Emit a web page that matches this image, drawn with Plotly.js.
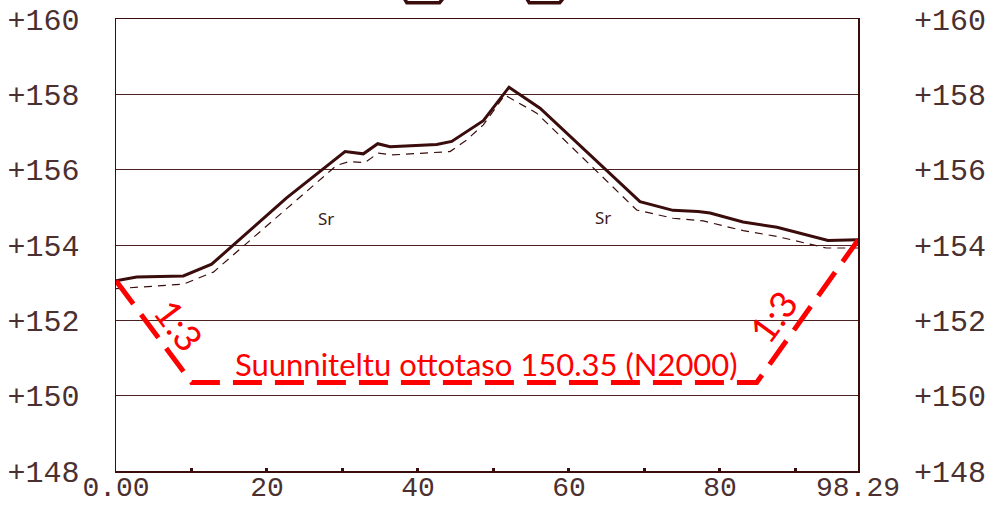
<!DOCTYPE html>
<html>
<head>
<meta charset="utf-8">
<script src="https://cdn.plot.ly/plotly-3.0.1.min.js"></script>
<style>html,body{margin:0;padding:0;background:#fff;}#chart{width:989px;height:507px;}</style>
</head>
<body>
<div id="chart"></div>
<script>
// Existing ground surface (solid)
var groundX = [0, 2.74, 8.92, 12.67, 22.6, 30.34, 32.76, 34.67, 36.30, 42.48, 44.47, 48.66, 52.06, 56.17, 69.41, 73.78, 77.10, 78.69, 83.06, 87.56, 94.32, 98.29];
var groundY = [153.05, 153.15, 153.18, 153.49, 155.25, 156.48, 156.42, 156.69, 156.61, 156.67, 156.75, 157.30, 158.19, 157.63, 155.15, 154.92, 154.89, 154.85, 154.61, 154.47, 154.12, 154.14];
// Layer boundary (thin dashed)
var layerX = [0, 8.92, 12.9, 29.2, 30.8, 32.98, 34.75, 36.5, 44.24, 46.46, 48.66, 51.5, 55.73, 68.97, 73.8, 77.8, 83.1, 87.5, 94.1, 98.29];
var layerY = [152.84, 152.96, 153.28, 156.11, 156.21, 156.19, 156.44, 156.39, 156.48, 156.79, 157.19, 157.98, 157.50, 154.93, 154.71, 154.64, 154.38, 154.23, 153.92, 153.92];
// Planned extraction level (red dashed)
var designX = [0, 10.03, 84.87, 98.29];
var designY = [153.05, 150.35, 150.35, 154.13];

var xTickVals = [0, 10, 20, 30, 40, 50, 60, 70, 80, 90, 98.29];
var xTickText = ['0.00', '', '20', '', '40', '', '60', '', '80', '', '98.29'];
var yTickVals = [148, 150, 152, 154, 156, 158, 160];
var yTickText = ['+148', '+150', '+152', '+154', '+156', '+158', '+160'];

var soilLabels = ['Sr', 'Sr'];
var soilX = [27.8, 64.5];
var soilY = [154.71, 154.72];

var designLabel = 'Suunniteltu ottotaso 150.35 (N2000)';
var designLabelX = 49.08, designLabelY = 150.85;
var slopeLabels = ['1:3', '1:3'];
var slopeX = [8.3, 87.0];
var slopeY = [151.88, 152.1];
var slopeAngle = [53, -54];

var dark = '#3a0c0c';
var gridC = '#4a2020';
var textC = '#4a3030';
var red = '#ff0000';

var traces = [
  {x: groundX, y: groundY, mode: 'lines', line: {color: dark, width: 3}, hoverinfo: 'skip'},
  {x: layerX, y: layerY, mode: 'lines', line: {color: dark, width: 1.2, dash: '8px,6px'}, hoverinfo: 'skip'},
  {x: designX, y: designY, mode: 'lines', line: {color: red, width: 5, dash: '29px,13px'}, hoverinfo: 'skip'},
  {x: [0, 98.29], y: [148, 160], mode: 'markers', marker: {opacity: 0}, yaxis: 'y2', hoverinfo: 'skip'}
];

var ann = [];
for (var i = 0; i < soilLabels.length; i++) {
  ann.push({x: soilX[i], y: soilY[i], text: soilLabels[i], showarrow: false,
    font: {family: 'Noto Sans', size: 17, color: '#3a1a1a'}});
}
ann.push({x: designLabelX, y: designLabelY, text: designLabel, showarrow: false,
  font: {family: 'Lato', size: 31, color: red}});
for (var j = 0; j < slopeLabels.length; j++) {
  ann.push({x: slopeX[j], y: slopeY[j], text: slopeLabels[j], showarrow: false, textangle: slopeAngle[j],
    font: {family: 'Lato', size: 37, color: red}});
}

var tickFont = {family: 'Liberation Mono', size: 30, color: textC};
var xTickFont = {family: 'Liberation Mono', size: 28, color: textC};

var layout = {
  width: 989, height: 507,
  margin: {l: 116, r: 131, t: 19, b: 36, pad: 0},
  paper_bgcolor: '#fff', plot_bgcolor: '#fff',
  showlegend: false,
  xaxis: {range: [0, 98.29], tickvals: xTickVals, ticktext: xTickText, ticks: 'inside', ticklen: 3, tickwidth: 3,
    tickcolor: dark, showgrid: false, zeroline: false, showline: true, mirror: true, linecolor: dark, linewidth: 1.5,
    tickfont: xTickFont, ticklabelstandoff: -10},
  yaxis: {range: [148, 160], tickvals: yTickVals, ticktext: yTickText, ticks: '', showgrid: true, gridcolor: gridC,
    gridwidth: 1, zeroline: false, showline: true, mirror: true, linecolor: dark, linewidth: 1.5,
    tickfont: tickFont, ticklabelstandoff: 29},
  yaxis2: {range: [148, 160], overlaying: 'y', side: 'right', tickvals: yTickVals, ticktext: yTickText, ticks: '',
    showgrid: false, zeroline: false, showline: false, tickfont: tickFont, ticklabelstandoff: 55},
  annotations: ann,
  shapes: [
    {type: 'path', xref: 'paper', yref: 'paper', path: 'M 0.389,1.044 L 0.392,1.036 L 0.436,1.036 L 0.440,1.044', line: {color: dark, width: 3.5}},
    {type: 'path', xref: 'paper', yref: 'paper', path: 'M 0.554,1.044 L 0.557,1.036 L 0.598,1.036 L 0.602,1.044', line: {color: dark, width: 3.5}}
  ]
};

Plotly.newPlot('chart', traces, layout, {displayModeBar: false, staticPlot: true});
</script>
</body>
</html>
